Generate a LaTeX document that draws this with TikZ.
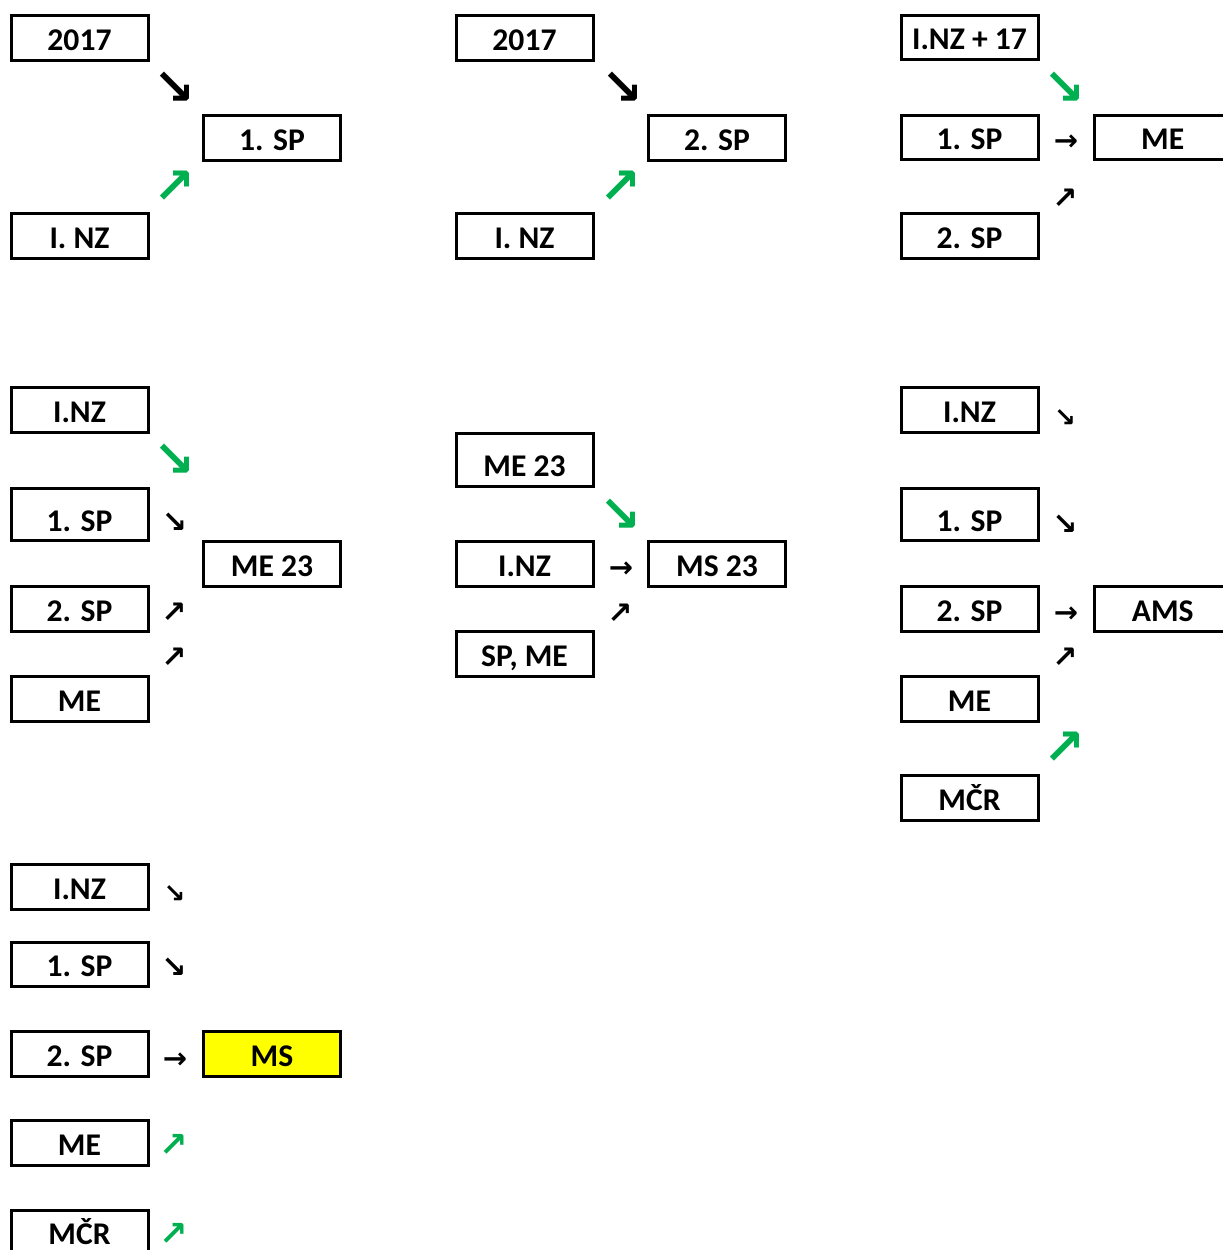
\documentclass[tikz,border=0pt]{standalone}
\usepackage{fontspec}
\setmainfont{Carlito}
\newfontfamily\arrowfont{DejaVu Sans}
\usepackage{tikz}
\usetikzlibrary{positioning}
\definecolor{exgreen}{RGB}{0,176,80}
\definecolor{exyellow}{RGB}{255,255,0}
\tikzset{
  cell/.style = {rectangle, draw, line width=1.5pt, minimum width=68.5pt, inner ysep=0pt,
                 text height=17.3pt, text depth=4.9pt, outer sep=0pt,
                 font=\fontsize{15.8}{18}\selectfont\bfseries},
  tallcell/.style = {cell, text height=21.4pt},
  arr/.style = {inner sep=0pt},
  bigarr/.style = {arr, font=\fontsize{25}{25}\selectfont\arrowfont\bfseries},
  midarr/.style = {arr, font=\fontsize{14.5}{14.5}\selectfont\arrowfont\bfseries},
  smallarr/.style = {arr, font=\fontsize{15}{15}\selectfont\arrowfont\bfseries},
  tinyarr/.style = {arr, font=\fontsize{13}{13}\selectfont\arrowfont\bfseries}
}
\begin{document}
\begin{tikzpicture}[x=0.5pt, y=-0.5pt]
\useasboundingbox (0,0) rectangle (1223,1250);

% first row
\node [cell] (a2017) at (79.5,37.8) {2017};
\node [cell] (asp) at (272,137.8) {1. SP};
\node [cell] (anz) at (79.5,236) {I. NZ};
\node [bigarr] (aar1) at (174,88) {↘};
\node [bigarr, exgreen] (aar2) at (174,187) {↗};

\node [cell] (b2017) at (524.5,37.8) {2017};
\node [cell] (bsp) at (717,137.8) {2. SP};
\node [cell] (bnz) at (524.5,236) {I. NZ};
\node [bigarr] (bar1) at (622,88) {↘};
\node [bigarr, exgreen] (bar2) at (620,187) {↗};

\node [cell] (cnz) at (969.5,37.5) {I.NZ + 17};
\node [cell] (csp1) at (969.5,137.5) {1. SP};
\node [cell] (cme) at (1162.7,137.5) {ME};
\node [cell] (csp2) at (969.5,236) {2. SP};
\node [bigarr, exgreen] (car1) at (1064,88) {↘};
\node [midarr] (car2) at (1066,143) {→};
\node [smallarr] (car3) at (1065,199) {↗};

% second row
\node [cell] (dnz) at (79.5,410) {I.NZ};
\node [tallcell] (dsp1) at (79.5,514.5) {1. SP};
\node [cell] (dsp2) at (79.5,609) {2. SP};
\node [cell] (dme) at (79.5,699) {ME};
\node [cell] (dme23) at (272,564) {ME 23};
\node [bigarr, exgreen] (dar1) at (174,460) {↘};
\node [smallarr] (dar2) at (174.5,523) {↘};
\node [smallarr] (dar3) at (174,613) {↗};
\node [smallarr] (dar4) at (174,658) {↗};

\node [tallcell] (eme23) at (524.5,460) {ME 23};
\node [cell] (enz) at (524.5,564) {I.NZ};
\node [cell] (ems23) at (717,564) {MS 23};
\node [cell] (espme) at (524.5,654) {SP, ME};
\node [bigarr, exgreen] (ear1) at (620,515) {↘};
\node [midarr] (ear2) at (621,570) {→};
\node [smallarr] (ear3) at (620,614) {↗};

\node [cell] (fnz) at (969.5,410) {I.NZ};
\node [tallcell] (fsp1) at (969.5,514.5) {1. SP};
\node [cell] (fsp2) at (969.5,609) {2. SP};
\node [cell] (fams) at (1162.7,609) {AMS};
\node [cell] (fme) at (969.5,699) {ME};
\node [cell] (fmcr) at (969.5,798) {MČR};
\node [tinyarr] (far1) at (1065,418) {↘};
\node [smallarr] (far2) at (1065,525) {↘};
\node [midarr] (far3) at (1066,615) {→};
\node [smallarr] (far4) at (1065,658) {↗};
\node [bigarr, exgreen] (far5) at (1064,748) {↗};

% third row
\node [cell] (gnz) at (79.5,887) {I.NZ};
\node [cell] (gsp1) at (79.5,964.5) {1. SP};
\node [cell] (gsp2) at (79.5,1054) {2. SP};
\node [cell, fill=exyellow] (gms) at (272,1054) {MS};
\node [cell] (gme) at (79.5,1143) {ME};
\node [cell] (gmcr) at (79.5,1232.5) {MČR};
\node [tinyarr] (gar1) at (174.5,894) {↘};
\node [smallarr] (gar2) at (174,968) {↘};
\node [midarr] (gar3) at (175,1061) {→};
\node [smallarr, exgreen, font=\fontsize{17}{17}\selectfont\arrowfont\bfseries] (gar4) at (174,1145) {↗};
\node [smallarr, exgreen, font=\fontsize{17}{17}\selectfont\arrowfont\bfseries] (gar5) at (174,1234) {↗};

\end{tikzpicture}
\end{document}
